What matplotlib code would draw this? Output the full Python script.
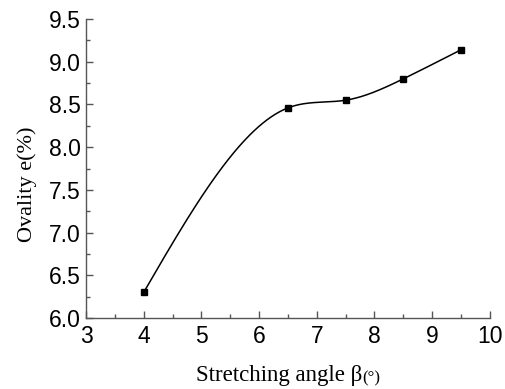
import matplotlib
matplotlib.use("Agg")
import matplotlib.pyplot as plt
import numpy as np
from matplotlib.ticker import MultipleLocator, FormatStrFormatter

# stretching angle (deg) vs ovality (%)
angle = [4.0, 6.5, 7.5, 8.5, 9.5]
ovality = [6.30, 8.46, 8.55, 8.80, 9.14]


def natural_spline(x, y, n=300):
    x = np.asarray(x, float)
    y = np.asarray(y, float)
    h = np.diff(x)
    m = len(x)
    A = np.zeros((m, m))
    b = np.zeros(m)
    A[0, 0] = A[-1, -1] = 1.0
    for i in range(1, m - 1):
        A[i, i - 1] = h[i - 1]
        A[i, i] = 2 * (h[i - 1] + h[i])
        A[i, i + 1] = h[i]
        b[i] = 6 * ((y[i + 1] - y[i]) / h[i] - (y[i] - y[i - 1]) / h[i - 1])
    M = np.linalg.solve(A, b)
    xs = np.linspace(x[0], x[-1], n)
    k = np.clip(np.searchsorted(x, xs) - 1, 0, m - 2)
    t0 = x[k + 1] - xs
    t1 = xs - x[k]
    hk = h[k]
    ys = (M[k] * t0**3 + M[k + 1] * t1**3) / (6 * hk) \
        + (y[k] / hk - M[k] * hk / 6) * t0 + (y[k + 1] / hk - M[k + 1] * hk / 6) * t1
    return xs, ys


fig = plt.figure(figsize=(5.06, 3.89), dpi=100)
ax = fig.add_axes([0.170, 0.1825, 0.798, 0.7685])

xs, ys = natural_spline(angle, ovality)
ax.plot(xs, ys, color="black", lw=1.1)
ax.plot(angle, ovality, "s", color="black", markersize=4.5)

ax.set_xlim(3, 10)
ax.set_ylim(6.0, 9.5)
ax.xaxis.set_major_locator(MultipleLocator(1))
ax.xaxis.set_minor_locator(MultipleLocator(0.5))
ax.yaxis.set_major_locator(MultipleLocator(0.5))
ax.yaxis.set_minor_locator(MultipleLocator(0.25))
ax.yaxis.set_major_formatter(FormatStrFormatter("%.1f"))

for side in ("top", "right"):
    ax.spines[side].set_visible(False)
for side in ("left", "bottom"):
    ax.spines[side].set_color("#555555")
    ax.spines[side].set_linewidth(1.0)

ax.tick_params(which="both", direction="in", color="#555555", width=1.0)
ax.tick_params(which="major", length=5, labelsize=16.5)
ax.tick_params(axis="x", which="major", pad=5)
ax.tick_params(axis="y", which="major", pad=4)
ax.tick_params(which="minor", length=3)
for lab in ax.get_xticklabels() + ax.get_yticklabels():
    lab.set_family("Liberation Sans")

ax.set_ylabel("Ovality e(%)", family="Liberation Serif", fontsize=16)
ax.yaxis.set_label_coords(-0.121, 0.448)

# x label: main text plus a smaller "(°)" unit, centred together under the axes
fig.canvas.draw()
r = fig.canvas.get_renderer()
main = fig.text(0, 0.021, "Stretching angle β", family="Liberation Serif",
                fontsize=16.5, ha="left", va="baseline")
unit = fig.text(0, 0.018, "(°)", family="Liberation Serif",
                fontsize=12, ha="left", va="baseline")
w_main = main.get_window_extent(r).width / fig.bbox.width
w_unit = unit.get_window_extent(r).width / fig.bbox.width
x0 = 0.170 + 0.798 / 2 - (w_main + w_unit) / 2
main.set_x(x0)
unit.set_x(x0 + w_main)

fig.savefig("out.png", dpi=100)
